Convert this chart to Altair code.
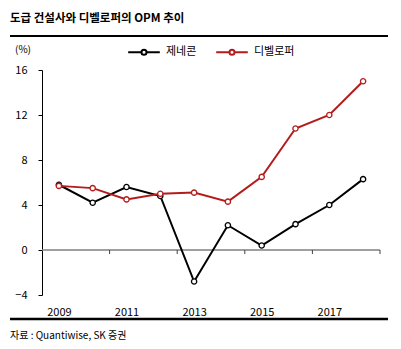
import altair as alt
import pandas as pd

years = [2009, 2010, 2011, 2012, 2013, 2014, 2015, 2016, 2017, 2018]
genecon = [5.8, 4.2, 5.6, 4.8, -2.8, 2.2, 0.4, 2.3, 4.0, 6.3]
developer = [5.7, 5.5, 4.5, 5.0, 5.1, 4.3, 6.5, 10.8, 12.0, 15.0]
series_names = ["제네콘", "디벨로퍼"]
series_colors = ["#000000", "#B41C1C"]
x_labels = [2009, 2011, 2013, 2015, 2017]
y_ticks = [-4, 0, 4, 8, 12, 16]
title_text = "도급 건설사와 디벨로퍼의 OPM 추이"
unit_text = "(%)"
source_text = "자료 : Quantiwise, SK 증권"

KFONT = "Noto Sans CJK KR"

rows = []
for name, vals in zip(series_names, [genecon, developer]):
    for yr, v in zip(years, vals):
        rows.append({"year": yr, "value": v, "series": name})
df = pd.DataFrame(rows)

W, H = 338, 225
PL, PT = 42, 70

xscale = alt.Scale(domain=[years[0] - 0.5, years[-1] + 0.5], nice=False, zero=False)
yscale = alt.Scale(domain=[y_ticks[0], y_ticks[-1]], nice=False)

legend_path = "M-1,0H-0.16M0.16,0H1M-0.16,0A0.16,0.16,0,1,1,0.16,0A0.16,0.16,0,1,1,-0.16,0"

color_enc = alt.Color("series:N", scale=alt.Scale(domain=series_names, range=series_colors),
                      sort=series_names,
                      legend=alt.Legend(title=None, orient="none", direction="horizontal",
                                        legendX=85, legendY=-35, symbolType=legend_path,
                                        symbolSize=1000, symbolStrokeWidth=2,
                                        symbolFillColor="white", labelFont=KFONT,
                                        labelFontSize=11, labelColor="#000000",
                                        labelOffset=5, columnPadding=15, padding=0))

x_enc = alt.X("year:Q", scale=xscale,
              axis=alt.Axis(values=x_labels, format="d", ticks=False, tickSize=0, domain=False,
                            labelPadding=11, labelFontSize=11, labelFont=KFONT,
                            labelColor="#000000", title=None, grid=False))
y_enc = alt.Y("value:Q", scale=yscale,
              axis=alt.Axis(values=y_ticks, tickSize=4, labelPadding=11, labelFontSize=11,
                            labelFont=KFONT, labelColor="#000000", domainColor="#000000",
                            tickColor="#000000", title=None, grid=False))

lines = alt.Chart(df).mark_line(strokeWidth=2).encode(x=x_enc, y=y_enc, color=color_enc)
points = alt.Chart(df).mark_point(filled=False, fill="white", fillOpacity=1, size=28,
                                  strokeWidth=1.3, opacity=1).encode(
    x=alt.X("year:Q", scale=xscale), y=alt.Y("value:Q", scale=yscale),
    stroke=alt.Stroke("series:N", scale=alt.Scale(domain=series_names, range=series_colors),
                      legend=None),
)

# zero line with category-boundary ticks
zero_df = pd.DataFrame({"x0": [years[0] - 0.5], "x1": [years[-1] + 0.5], "y": [0]})
zero_line = alt.Chart(zero_df).mark_rule(color="#808080", strokeWidth=1.5).encode(
    x=alt.X("x0:Q", scale=xscale), x2="x1:Q", y=alt.Y("y:Q", scale=yscale)
)
tick_df = pd.DataFrame({"bx": [y + 0.5 for y in years[1::2]], "y": [0] * len(years[1::2])})
ticks = alt.Chart(tick_df).mark_rule(color="#404040", strokeWidth=1).encode(
    x=alt.X("bx:Q", scale=xscale), y=alt.Y("y:Q", scale=yscale),
    y2=alt.value(250 - PT + 4),
)

one = pd.DataFrame({"a": [0]})
title = alt.Chart(one).mark_text(text=title_text, font=KFONT, fontSize=11.5, fontWeight="bold",
                                 align="left", baseline="middle", color="#000000").encode(
    x=alt.value(10 - PL), y=alt.value(19 - PT))
unit = alt.Chart(one).mark_text(text=unit_text, font=KFONT, fontSize=10, align="left",
                                baseline="middle", color="#000000").encode(
    x=alt.value(15 - PL), y=alt.value(50 - PT))
source = alt.Chart(one).mark_text(text=source_text, font=KFONT, fontSize=10, align="left",
                                  baseline="middle", color="#000000").encode(
    x=alt.value(10 - PL), y=alt.value(336 - PT))
top_rule = alt.Chart(one).mark_rule(color="#000000", strokeWidth=2).encode(
    x=alt.value(10 - PL), x2=alt.value(388 - PL), y=alt.value(36 - PT))
bottom_rule = alt.Chart(one).mark_rule(color="#000000", strokeWidth=2.5).encode(
    x=alt.value(10 - PL), x2=alt.value(388 - PL), y=alt.value(319 - PT))

chart = alt.layer(zero_line, ticks, lines, points, title, unit, source, top_rule,
                  bottom_rule).properties(
    width=W, height=H,
    autosize=alt.AutoSizeParams(type="none"),
    padding={"left": PL, "top": PT, "right": 401 - PL - W, "bottom": 349 - PT - H},
    background="white",
).configure_view(stroke=None)

chart.save("out.html", embed_options={"renderer": "svg", "actions": False})
